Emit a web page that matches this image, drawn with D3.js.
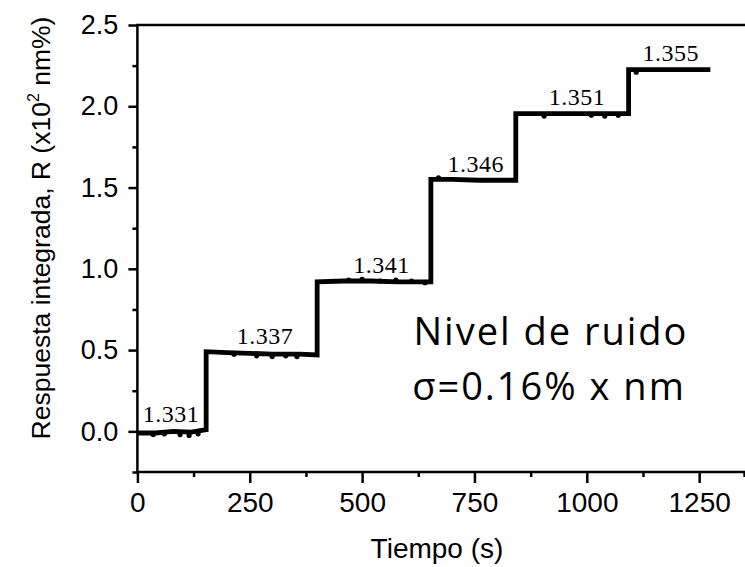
<!DOCTYPE html>
<html>
<head>
<meta charset="utf-8">
<script src="https://cdn.jsdelivr.net/npm/d3@7"></script>
<style>
  body { margin: 0; background: #fff; }
  svg { display: block; }
</style>
</head>
<body>
<div id="chart"></div>
<script>
// step response
let tiempo = [0, 40, 80, 120, 153, 153, 200, 250, 300, 360, 400, 400, 460, 520, 580, 653, 653, 700, 760, 842, 842, 900, 960, 1030, 1093, 1093, 1140, 1200, 1275];
let respuesta = [-0.01, -0.01, 0.0, -0.005, 0.01, 0.49, 0.485, 0.48, 0.475, 0.475, 0.47, 0.92, 0.925, 0.925, 0.92, 0.92, 1.55, 1.55, 1.545, 1.545, 1.955, 1.955, 1.955, 1.955, 1.955, 2.225, 2.225, 2.225, 2.225];

// small noise dots along the plateaus
let ruidoT = [35, 60, 95, 115, 135, 215, 265, 300, 330, 355, 470, 500, 540, 575, 610, 640, 670, 905, 1010, 1040, 1070, 1110];
let ruidoR = [-0.02, -0.015, -0.02, -0.025, -0.015, 0.475, 0.465, 0.46, 0.465, 0.46, 0.93, 0.935, 0.925, 0.93, 0.925, 0.915, 1.56, 1.94, 1.945, 1.94, 1.945, 2.21];

// refractive index labels on each step
let indices = ['1.331', '1.337', '1.341', '1.346', '1.351', '1.355'];
let indiceT = [75, 284, 543, 753, 978, 1187];
let nivel = [0.0, 0.48, 0.92, 1.54, 1.955, 2.225];

let xTicks = [0, 250, 500, 750, 1000, 1250];
let xMinor = [125, 375, 625, 875, 1125, 1350];
let yTicks = [0.0, 0.5, 1.0, 1.5, 2.0, 2.5];
let yMinor = [-0.25, 0.25, 0.75, 1.25, 1.75, 2.25];

let svgWidth = 745;
let svgHeight = 567;
let margin = { top: 25, right: 0, bottom: 95, left: 137.4 };
let width = svgWidth - margin.left - margin.right;
let height = svgHeight - margin.top - margin.bottom;

let svg = d3.select('#chart')
    .append('svg')
    .attr('width', svgWidth)
    .attr('height', svgHeight);

let chartgroup = svg.append('g')
    .attr('transform', `translate(${margin.left},${margin.top})`);

let xScale = d3.scaleLinear().domain([0, 1352]).range([0, width]);
let yScale = d3.scaleLinear().domain([-0.25, 2.5]).range([height, 0]);

// minor ticks first, majors on top
let xMinorAxis = d3.axisBottom(xScale).tickValues(xMinor).tickSize(5).tickFormat('');
let yMinorAxis = d3.axisLeft(yScale).tickValues(yMinor).tickSize(5).tickFormat('');
let xAxis = d3.axisBottom(xScale).tickValues(xTicks).tickSize(11).tickPadding(9).tickFormat(d3.format('d'));
let yAxis = d3.axisLeft(yScale).tickValues(yTicks).tickSize(9).tickPadding(10).tickFormat(d3.format('.1f'));

chartgroup.append('g')
    .attr('transform', `translate(0,${height})`)
    .call(xMinorAxis);
chartgroup.append('g').call(yMinorAxis);

let XAxis = chartgroup.append('g')
    .attr('class', 'x-axis')
    .attr('transform', `translate(0,${height})`)
    .call(xAxis);
let YAxis = chartgroup.append('g')
    .attr('class', 'y-axis')
    .call(yAxis);

chartgroup.selectAll('.domain').remove();
chartgroup.selectAll('.tick line')
    .attr('stroke', '#000')
    .attr('stroke-width', 2.5);

XAxis.selectAll('text')
    .attr('font-family', 'Liberation Sans, Arial, sans-serif')
    .attr('font-size', '28px')
    .attr('fill', '#000');
YAxis.selectAll('text')
    .attr('font-family', 'Liberation Sans, Arial, sans-serif')
    .attr('font-size', '27px')
    .attr('fill', '#000');

// frame: left, bottom and top lines (right side is cut off)
chartgroup.append('path')
    .attr('d', `M${width + 1},0H0V${height}H${width + 1}`)
    .attr('fill', 'none')
    .attr('stroke', '#000')
    .attr('stroke-width', 2.5);

// the step trace
let line = d3.line()
    .x((d, i) => xScale(tiempo[i]))
    .y(d => yScale(d));

chartgroup.append('path')
    .datum(respuesta)
    .attr('d', line)
    .attr('fill', 'none')
    .attr('stroke', '#000')
    .attr('stroke-width', 4.8)
    .attr('stroke-linejoin', 'miter');

chartgroup.selectAll('.ruido')
    .data(ruidoR)
    .enter()
    .append('circle')
    .attr('class', 'ruido')
    .attr('cx', (d, i) => xScale(ruidoT[i]))
    .attr('cy', d => yScale(d))
    .attr('r', 2.6)
    .attr('fill', '#000');

chartgroup.selectAll('.indice')
    .data(indices)
    .enter()
    .append('text')
    .attr('class', 'indice')
    .attr('x', (d, i) => xScale(indiceT[i]))
    .attr('y', (d, i) => yScale(nivel[i]) - 9)
    .attr('text-anchor', 'middle')
    .attr('font-family', 'Liberation Serif, Times New Roman, serif')
    .attr('font-size', '24px')
    .attr('letter-spacing', '0.5px')
    .attr('fill', '#000')
    .text(d => d);

// noise annotation
let nota = chartgroup.append('g')
    .attr('font-family', 'Open Sans, sans-serif')
    .attr('font-size', '38px')
    .attr('letter-spacing', '2px')
    .attr('fill', '#000')
    .attr('text-anchor', 'middle');
nota.append('text')
    .attr('x', 551 - margin.left)
    .attr('y', 345 - margin.top)
    .text('Nivel de ruido');
nota.append('text')
    .attr('x', 549 - margin.left)
    .attr('y', 400 - margin.top)
    .text('σ=0.16% x nm');

// axis titles
svg.append('text')
    .attr('x', 437)
    .attr('y', 558)
    .attr('text-anchor', 'middle')
    .attr('font-family', 'Liberation Sans, Arial, sans-serif')
    .attr('font-size', '28px')
    .text('Tiempo (s)');

let yTitle = svg.append('text')
    .attr('transform', 'translate(50,228) rotate(-90)')
    .attr('text-anchor', 'middle')
    .attr('font-family', 'Liberation Sans, Arial, sans-serif')
    .attr('font-size', '26.5px');
yTitle.append('tspan').text('Respuesta integrada, R (x10');
yTitle.append('tspan').attr('font-size', '16px').attr('dy', '-11').text('2');
yTitle.append('tspan').attr('dy', '11').text(' nm%)');
</script>
</body>
</html>
